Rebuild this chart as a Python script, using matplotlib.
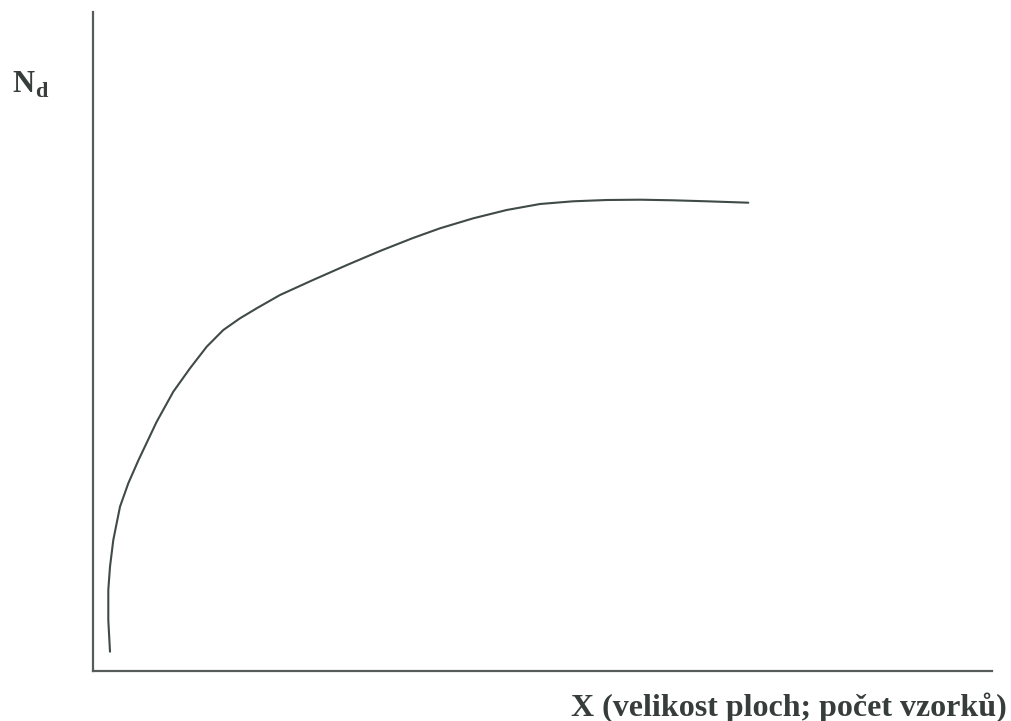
import numpy as np
import matplotlib.pyplot as plt

# curve (arbitrary units: x = sample size, y = N_d)
x_vals = [17, 15.3, 15.3, 17, 20.3, 27, 35.3, 45.3, 63.7, 80.3, 97,
          113.7, 130.3, 147, 163.7, 187, 220, 254, 287, 320, 347, 380.3, 413.7,
          447, 480, 513.7, 547, 580, 613.7, 655.3]
y_vals = [19.3, 51, 81, 104.3, 131, 164.3, 187.7, 210.5, 249.3, 279.3,
          302.7, 324.3, 341, 352.7, 362.7, 376, 391, 406, 420, 433, 442.7, 452.7,
          461, 467, 469.7, 471, 471.3, 470.7, 469.7, 468.3]

W, H = 1011, 721
fig = plt.figure(figsize=(W / 100, H / 100), dpi=100)
ax = fig.add_axes([93 / W, 1 - 671 / H, (992 - 93) / W, (671 - 12) / H])

ax.plot(x_vals, y_vals, color='#404a46', lw=1.5, solid_capstyle='round',
        solid_joinstyle='round')
ax.set_xlim(0, 899)
ax.set_ylim(0, 659)

for s in ['top', 'right']:
    ax.spines[s].set_visible(False)
for s in ['left', 'bottom']:
    ax.spines[s].set_color('#555c59')
    ax.spines[s].set_linewidth(1.6)
ax.set_xticks([])
ax.set_yticks([])

txt = dict(family='Liberation Serif', weight='bold', color='#363d3a')
fig.text(12 / W, 1 - 92 / H, 'N', fontsize=22, ha='left', va='baseline', **txt)
fig.text(35 / W, 1 - 97 / H, 'd', fontsize=16, ha='left', va='baseline', **txt)
fig.text(1007 / W, 1 - 716 / H, 'X (velikost ploch; počet vzorků)', fontsize=23,
         ha='right', va='baseline', **txt)

fig.savefig('out.png', dpi=100)
